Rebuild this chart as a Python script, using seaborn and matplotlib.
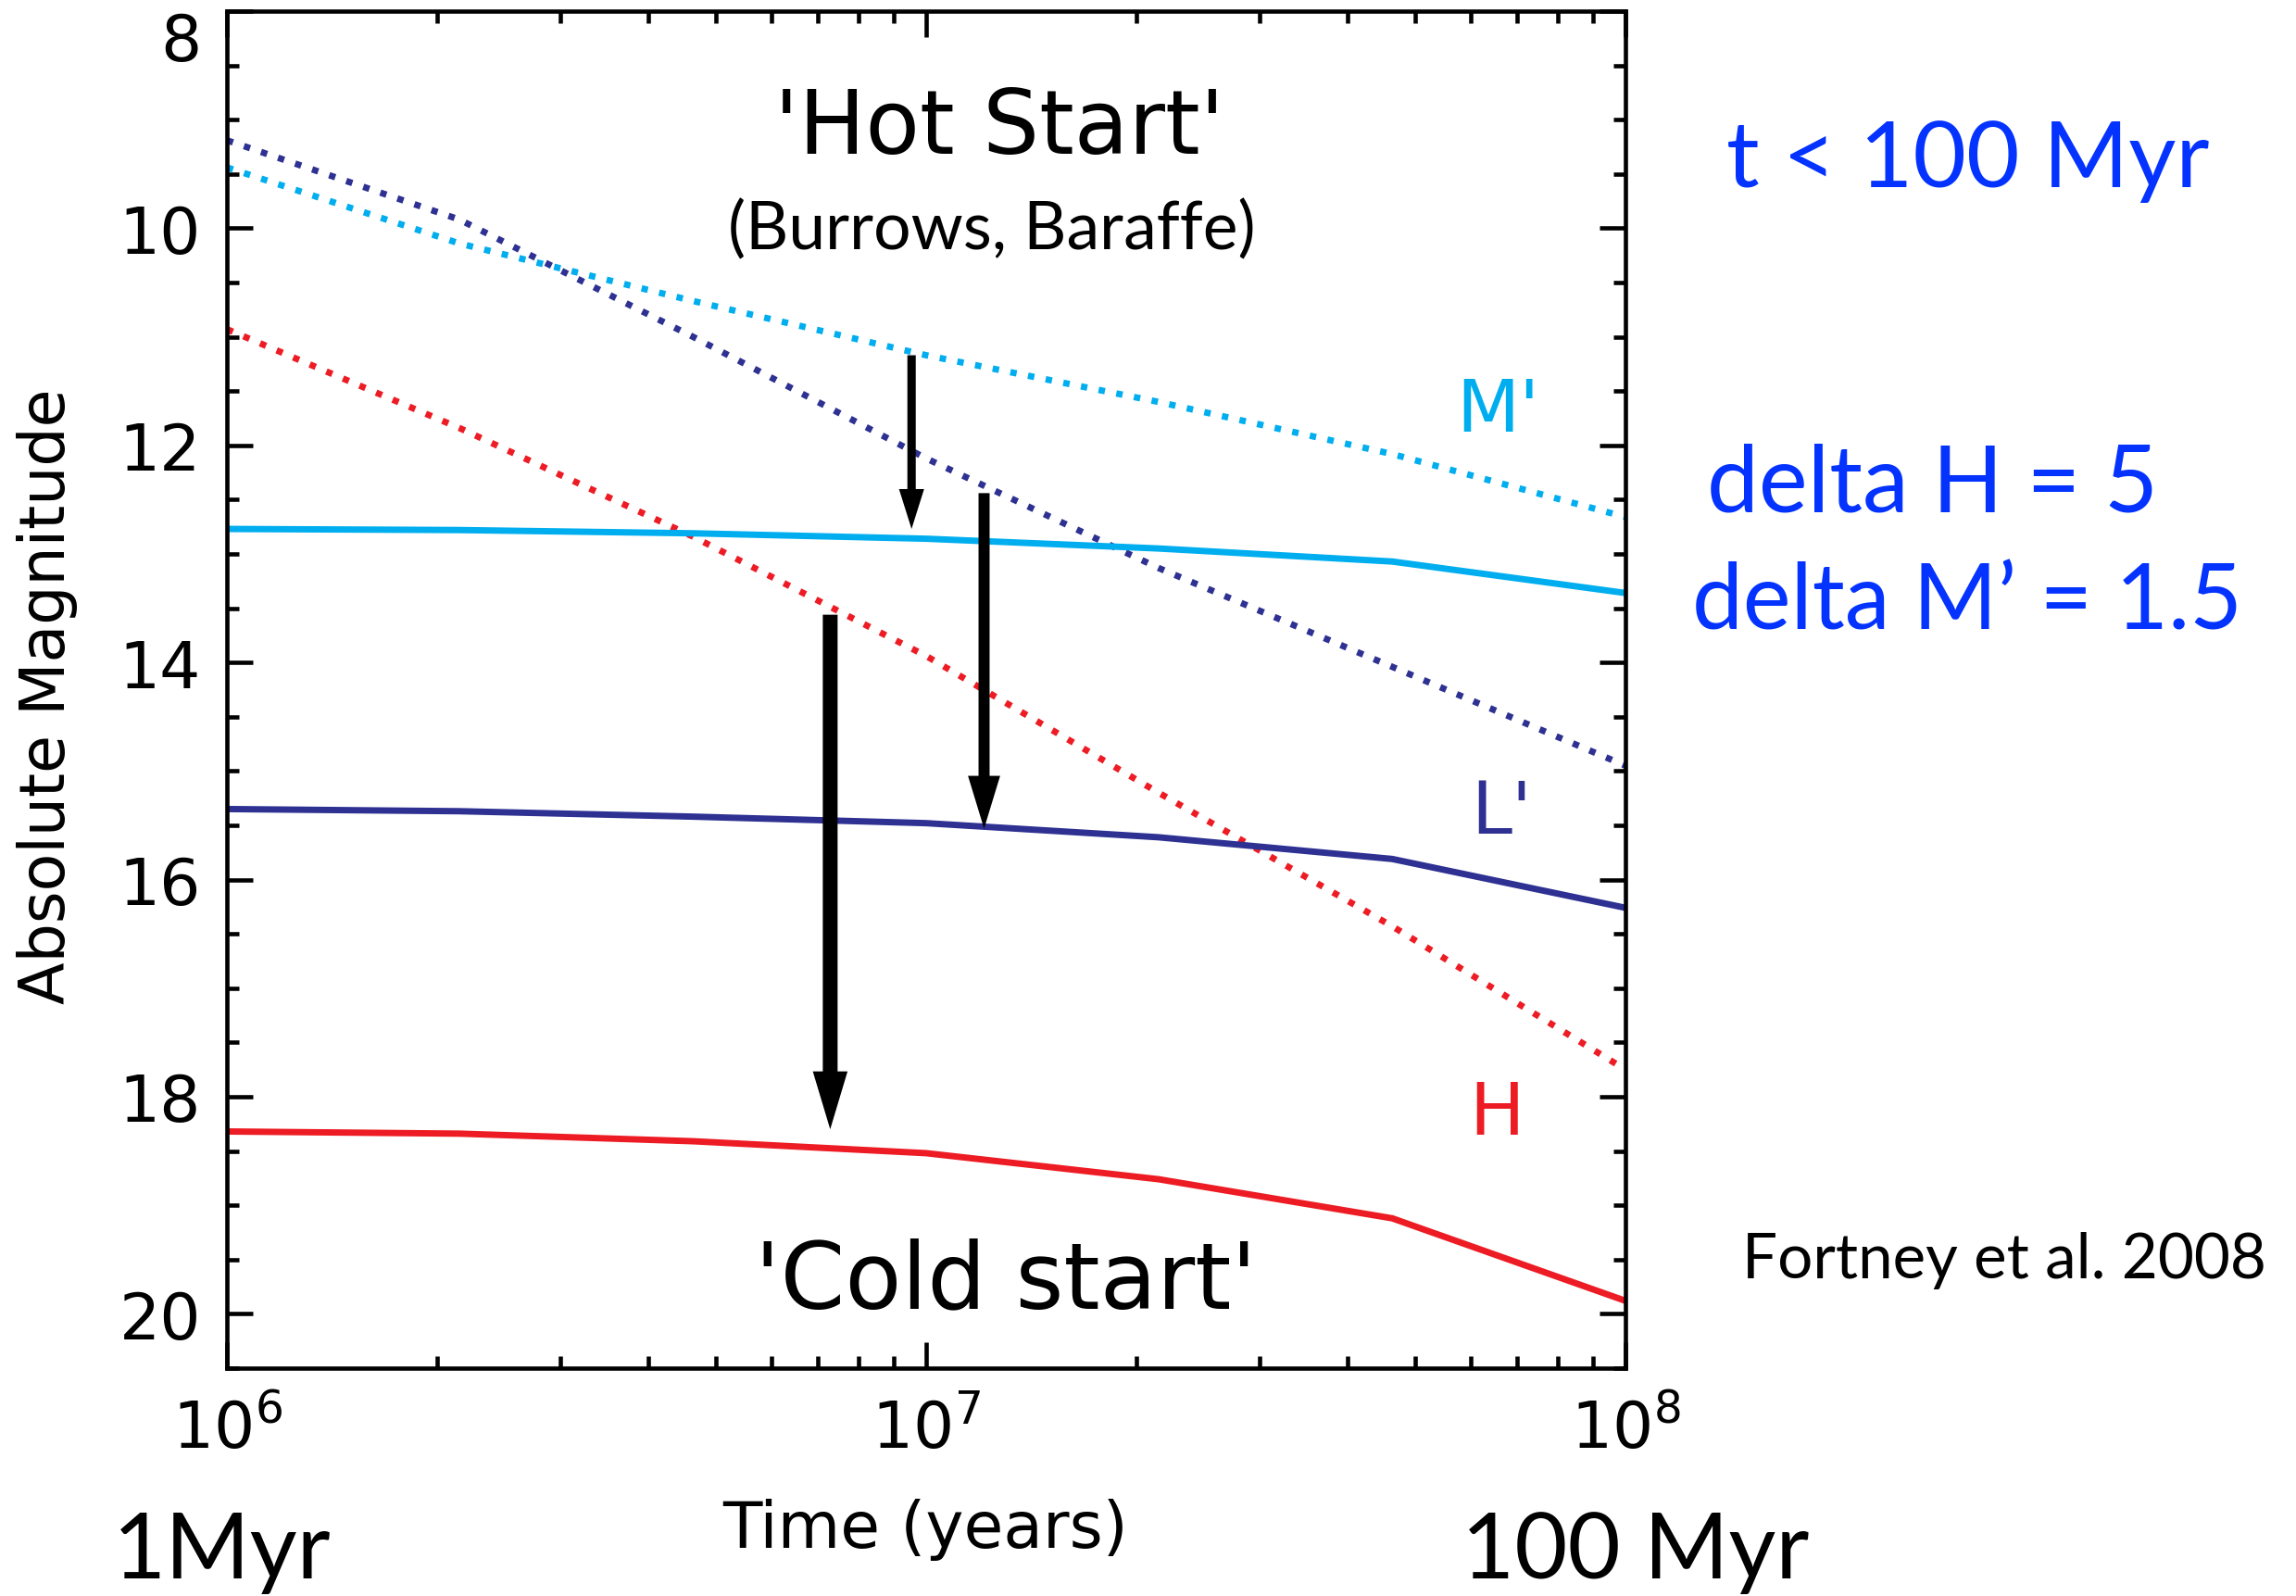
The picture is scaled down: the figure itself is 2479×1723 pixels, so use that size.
import numpy as np
import pandas as pd
import matplotlib
matplotlib.use('Agg')
import matplotlib.pyplot as plt
import seaborn as sns
from matplotlib.ticker import MultipleLocator, LogLocator, NullFormatter

# model ages in years
ages = [1e6, 2.15e6, 4.64e6, 1e7, 2.15e7, 4.64e7, 1e8]

# 'hot start' absolute magnitudes (dotted)
hot_H = [10.93, 11.84, 12.84, 13.94, 15.20, 16.43, 17.75]
hot_L = [9.19, 9.92, 11.00, 12.12, 13.13, 14.04, 14.95]
hot_M = [9.44, 10.14, 10.67, 11.17, 11.60, 12.08, 12.66]

# 'cold start' absolute magnitudes (solid)
cold_H = [18.32, 18.34, 18.41, 18.52, 18.76, 19.12, 19.88]
cold_L = [15.35, 15.37, 15.42, 15.48, 15.61, 15.81, 16.26]
cold_M = [12.77, 12.78, 12.81, 12.86, 12.95, 13.07, 13.36]

# arrows hot -> cold
arrow_t = [9.53e6, 1.21e7, 7.29e6]
arrow_from = [11.17, 12.44, 13.56]
arrow_to = [12.77, 15.53, 18.30]

cyan = '#00AEEF'
navy = '#2E3192'
red = '#ED1C24'
blue = '#0433FF'

W, H = 2479, 1724

def px(x, y):
    return x / W, 1 - y / H

sns.set_style('ticks')
plt.rcParams['font.family'] = ['DejaVu Sans']
plt.rcParams['mathtext.fontset'] = 'dejavusans'
plt.rcParams.update({'text.color': 'black', 'axes.labelcolor': 'black',
                     'xtick.color': 'black', 'ytick.color': 'black',
                     'axes.edgecolor': 'black'})

fig = plt.figure(figsize=(W / 100, H / 100), dpi=100)
ax = fig.add_axes([245 / W, 1 - 1478 / H, 1510 / W, 1465 / H])
ax.set_xscale('log')

df = pd.DataFrame({'age': ages * 6,
                   'mag': hot_M + hot_L + hot_H + cold_M + cold_L + cold_H,
                   'curve': sum([[k] * len(ages) for k in
                                 ['hM', 'hL', 'hH', 'cM', 'cL', 'cH']], [])})

dot = (0, (1, 1.8))
for key, col in [('hM', cyan), ('hL', navy), ('hH', red)]:
    sns.lineplot(data=df[df.curve == key], x='age', y='mag', color=col, ax=ax)
    ln = ax.lines[-1]
    ln.set_linewidth(5.0)
    ln.set_linestyle(dot)
    ln.set_dash_capstyle('butt')
for key, col in [('cM', cyan), ('cL', navy), ('cH', red)]:
    sns.lineplot(data=df[df.curve == key], x='age', y='mag', color=col, ax=ax)
    ax.lines[-1].set_linewidth(5.0)

arrow_style = [(6.5, 19.5, 31), (8.6, 25, 41), (11.5, 27, 45)]
for t, y0, y1, (w, hw, hl) in zip(arrow_t, arrow_from, arrow_to, arrow_style):
    ax.annotate('', xy=(t, y1), xytext=(t, y0),
                arrowprops=dict(width=w, headwidth=hw, headlength=hl,
                                facecolor='black', edgecolor='none', shrink=0))

ax.set_xlim(1e6, 1e8)
ax.set_ylim(20.5, 8)
ax.set_yticks(np.arange(8, 21, 2))
ax.yaxis.set_minor_locator(MultipleLocator(0.5))
ax.set_xticks([1e6, 1e7, 1e8])
ax.set_xticklabels([r'$10^{6}$', r'$10^{7}$', r'$10^{8}$'])
ax.xaxis.set_minor_locator(LogLocator(base=10, subs=np.arange(2, 10)))
ax.xaxis.set_minor_formatter(NullFormatter())
ax.tick_params(which='both', direction='in', top=True, right=True,
               width=3.3, labelsize=50, colors='black')
ax.tick_params(which='major', length=20)
ax.tick_params(which='minor', length=9.4)
ax.tick_params(axis='y', pad=20)
ax.tick_params(axis='x', pad=23)
for s in ax.spines.values():
    s.set_linewidth(3.3)
    s.set_color('black')
ax.yaxis.get_major_ticks()[0].label1.set_va('top')

ax.set_xlabel('Time (years)', fontsize=50, va='baseline')
ax.xaxis.set_label_coords((999 - 245) / 1510, -(1671 - 1478) / 1465)
ax.set_ylabel('Absolute Magnitude', fontsize=48, va='center', ha='center')
ax.yaxis.set_label_coords((51 - 245) / 1510, 1 - (752 - 13) / 1465)

# in-plot labels
fig.text(*px(1079, 166), "'Hot Start'", fontsize=69, ha='center', va='baseline')
fig.text(*px(1086, 1412), "'Cold start'", fontsize=72, ha='center', va='baseline')
fig.text(*px(1071, 269), '(Burrows, Baraffe)', fontsize=51.5, family='Lato',
         ha='center', va='baseline')
fig.text(*px(1617, 466), "M'", fontsize=57, color=cyan, ha='center', va='baseline')
fig.text(*px(1621, 900), "L'", fontsize=57, color=navy, ha='center', va='baseline')
fig.text(*px(1616, 1225), 'H', fontsize=57, color=red, ha='center', va='baseline')

# side annotations
fig.text(*px(2125, 202), 't < 100 Myr', fontsize=71.5, family='Lato', color=blue,
         ha='center', va='baseline')
fig.text(*px(2087, 553), 'delta H = 5', fontsize=72, family='Lato', color=blue,
         ha='center', va='baseline')
fig.text(*px(2124, 680), 'delta M\u2019 = 1.5', fontsize=70.5, family='Lato', color=blue,
         ha='center', va='baseline')
fig.text(*px(2164, 1380), 'Fortney et al. 2008', fontsize=48.5, family='Lato',
         ha='center', va='baseline')
fig.text(*px(240, 1704), '1Myr', fontsize=71, family='Lato', ha='center', va='baseline')
fig.text(*px(1766, 1704), '100 Myr', fontsize=71, family='Lato', ha='center', va='baseline')

fig.savefig('out.png', dpi=100)
